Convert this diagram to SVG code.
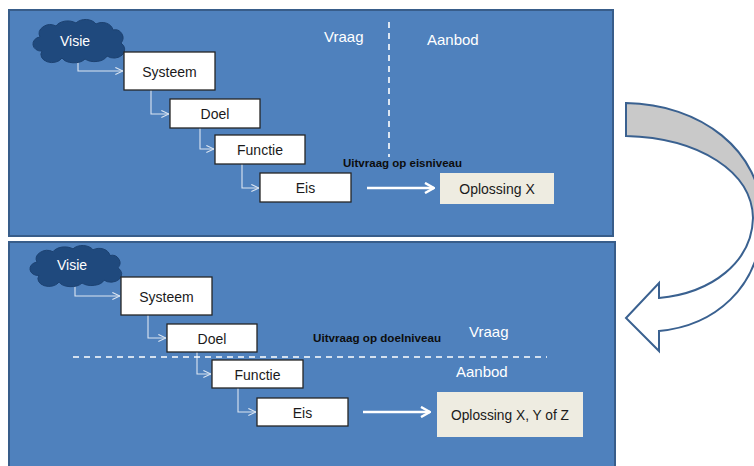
<svg xmlns="http://www.w3.org/2000/svg" xmlns:xlink="http://www.w3.org/1999/xlink" width="754" height="466" viewBox="0 0 754 466">
<style>
.panel{fill:#4f81bd;stroke:#385d8a;stroke-width:2}
.box{fill:#ffffff;stroke:#262626;stroke-width:1.3}
.sol{fill:#eeece1;stroke:none}
.cloud{fill:#1f497d;stroke:#1c4170;stroke-width:1}
.t{font-family:"Liberation Sans",Arial,sans-serif;font-size:14px;fill:#1a1a1a;text-anchor:middle}
.w{font-family:"Liberation Sans",Arial,sans-serif;font-size:14px;fill:#ffffff;text-anchor:middle}
.lab{font-family:"Liberation Sans",Arial,sans-serif;font-size:15px;fill:#ffffff}
.bold{font-family:"Liberation Sans",Arial,sans-serif;font-size:11px;font-weight:bold;fill:#0d0d0d}
.conn{fill:none;stroke:#dce6f2;stroke-width:1.1;marker-end:url(#chev)}
.big{fill:none;stroke:#ffffff;stroke-width:2.5;marker-end:url(#bigchev)}
.dash{fill:none;stroke:#ffffff;stroke-width:1.6;stroke-dasharray:6 5}
</style>
<defs>
<marker id="chev" markerUnits="userSpaceOnUse" viewBox="0 0 10 10" refX="9.5" refY="5" markerWidth="9" markerHeight="9" orient="auto">
<path d="M1,1 L9.5,5 L1,9" fill="none" stroke="#dce6f2" stroke-width="1.2"/>
</marker>
<marker id="bigchev" markerUnits="userSpaceOnUse" viewBox="0 0 12 12" refX="11" refY="6" markerWidth="12" markerHeight="12" orient="auto">
<path d="M2,1 L11,6 L2,11" fill="none" stroke="#ffffff" stroke-width="2.5"/>
</marker>
<path id="cloud" d="M42,51 A8,7 0 0 1 40,37 A11,9 0 0 1 56,26 A13,9 0 0 1 76,23 A12,9 0 0 1 96,24 A11,9 0 0 1 113,30 A8,8 0 0 1 121,43 A10,8 0 0 1 107,56 A13,8 0 0 1 85,59 A13,8 0 0 1 62,58 A11,8 0 0 1 42,51 Z"/>
</defs>

<g id="panel-top">
<rect class="panel" x="9" y="10" width="604" height="226"/>
</g>
<g id="panel-bottom">
<rect class="panel" x="9" y="242" width="606" height="240"/>
</g>

<g id="curved-arrow">
<path d="M626,103 C700,104 762,150 762,218 L753,218 C752,172 700,138 626,136 Z" fill="#c9c9c9" stroke="none"/>
<path d="M626,103 C700,104 762,150 762,218 C762,290 712,326 659,331 L659,351 L626,318 L659,283 L659,298 C712,293 752,262 753,218 C752,172 700,138 626,136 Z" fill="none" stroke="#3a6190" stroke-width="2" stroke-linejoin="miter"/>
</g>

<g id="connectors">
<path class="conn" d="M78,60 V71 H123"/>
<path class="conn" d="M151,90 V114 H169"/>
<path class="conn" d="M200,128 V149 H214"/>
<path class="conn" d="M242,164 V188 H259"/>
<path class="big" d="M367,188 H434"/>
<path class="dash" d="M389,22 V157"/>
<path class="conn" d="M75,284 V296 H120"/>
<path class="conn" d="M148,315 V338 H166"/>
<path class="conn" d="M197,352 V374 H211"/>
<path class="conn" d="M238,388 V412 H256"/>
<path class="big" d="M363,412 H430"/>
<path class="dash" d="M73,357 H547"/>
</g>

<g id="top-visie">
<use xlink:href="#cloud" href="#cloud" class="cloud"/>
<text class="w" x="75" y="46">Visie</text>
</g>
<g id="top-systeem">
<rect class="box" x="124" y="52" width="91" height="38"/>
<text class="t" x="169.5" y="77">Systeem</text>
</g>
<g id="top-doel">
<rect class="box" x="170" y="99" width="90" height="29"/>
<text class="t" x="215" y="119">Doel</text>
</g>
<g id="top-functie">
<rect class="box" x="215" y="135" width="90" height="29"/>
<text class="t" x="260" y="155">Functie</text>
</g>
<g id="top-eis">
<rect class="box" x="260" y="173" width="91" height="29"/>
<text class="t" x="305.5" y="193">Eis</text>
</g>
<g id="top-oplossing">
<rect class="sol" x="440" y="173" width="114" height="31"/>
<text class="t" x="497" y="194">Oplossing X</text>
</g>
<g id="top-labels">
<text class="lab" x="324" y="42">Vraag</text>
<text class="lab" x="427" y="45">Aanbod</text>
<text class="bold" x="343" y="167" textLength="119" lengthAdjust="spacingAndGlyphs">Uitvraag op eisniveau</text>
</g>

<g id="bottom-visie">
<use xlink:href="#cloud" href="#cloud" class="cloud" transform="translate(-3,227) scale(1,0.95)"/>
<text class="w" x="72" y="270">Visie</text>
</g>
<g id="bottom-systeem">
<rect class="box" x="121" y="277" width="91" height="38"/>
<text class="t" x="166.5" y="301.5">Systeem</text>
</g>
<g id="bottom-doel">
<rect class="box" x="167" y="324" width="90" height="28"/>
<text class="t" x="212" y="343.5">Doel</text>
</g>
<g id="bottom-functie">
<rect class="box" x="212" y="360" width="91" height="28"/>
<text class="t" x="257.5" y="379.5">Functie</text>
</g>
<g id="bottom-eis">
<rect class="box" x="257" y="398" width="91" height="28"/>
<text class="t" x="302.5" y="417.5">Eis</text>
</g>
<g id="bottom-oplossing">
<rect class="sol" x="437" y="392" width="146" height="45"/>
<text class="t" x="510" y="420" textLength="118" lengthAdjust="spacingAndGlyphs">Oplossing X, Y of Z</text>
</g>
<g id="bottom-labels">
<text class="lab" x="469" y="337">Vraag</text>
<text class="lab" x="456" y="377">Aanbod</text>
<text class="bold" x="313" y="342" textLength="128" lengthAdjust="spacingAndGlyphs">Uitvraag op doelniveau</text>
</g>
</svg>
